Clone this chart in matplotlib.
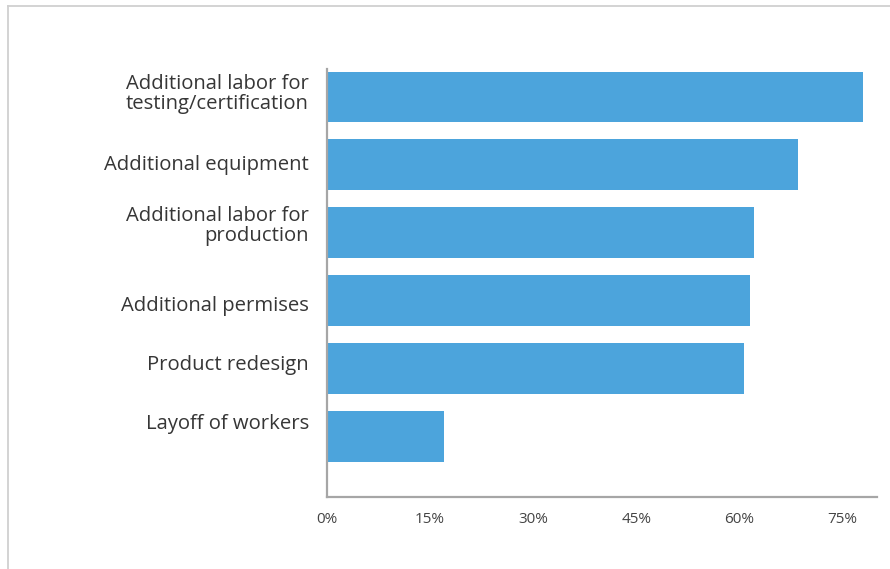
import matplotlib
matplotlib.use("Agg")
import matplotlib.pyplot as plt
import matplotlib.transforms as mtransforms
from matplotlib.lines import Line2D
from matplotlib.ticker import FuncFormatter, MultipleLocator

categories = [
    "Additional labor for\ntesting/certification",
    "Additional equipment",
    "Additional labor for\nproduction",
    "Additional permises",
    "Product redesign",
    "Layoff of workers",
]
shares = [78.0, 68.5, 62.1, 61.5, 60.6, 17.0]

# small vertical nudges (points) for the category labels
label_nudge = [4.0, 1.5, 6.5, -2.0, 4.0, 10.5]

plt.rcParams["font.family"] = ["Open Sans", "DejaVu Sans"]

fig = plt.figure(figsize=(8.9, 5.69), dpi=100)
ax = fig.add_axes([0.3674, 0.1265, 0.6180, 0.7514])

positions = list(range(len(categories)))
ax.barh(positions, shares, height=0.74, color="#4CA4DC", zorder=2)

ax.set_ylim(len(categories) - 0.11, -0.40)
ax.set_xlim(0, 80)
ax.xaxis.set_major_locator(MultipleLocator(15))
ax.xaxis.set_major_formatter(FuncFormatter(lambda v, p: f"{v:.0f}%"))

ax.set_yticks(positions)
ax.set_yticklabels(categories, fontsize=14.6, color="#363636",
                   linespacing=1.0, ha="right")
ax.tick_params(axis="y", length=0, pad=13)
ax.tick_params(axis="x", length=0, pad=11, labelsize=11, labelcolor="#444444")

for lbl, dy in zip(ax.get_yticklabels(), label_nudge):
    lbl.set_transform(lbl.get_transform() +
                      mtransforms.ScaledTranslation(0, dy / 72, fig.dpi_scale_trans))

for side in ("top", "right"):
    ax.spines[side].set_visible(False)
for side in ("left", "bottom"):
    ax.spines[side].set_color("#A6A6A6")
    ax.spines[side].set_linewidth(1.6)

# outer frame: only its left and top edges fall inside the canvas
fx = 8.3 / 890
fy = 1 - 5.5 / 569
fig.add_artist(Line2D([fx, fx], [0, fy], transform=fig.transFigure,
                      color="#D0D0D0", linewidth=1.3))
fig.add_artist(Line2D([fx, 1], [fy, fy], transform=fig.transFigure,
                      color="#D0D0D0", linewidth=1.3))

fig.savefig("out.png", dpi=100, facecolor="white")
